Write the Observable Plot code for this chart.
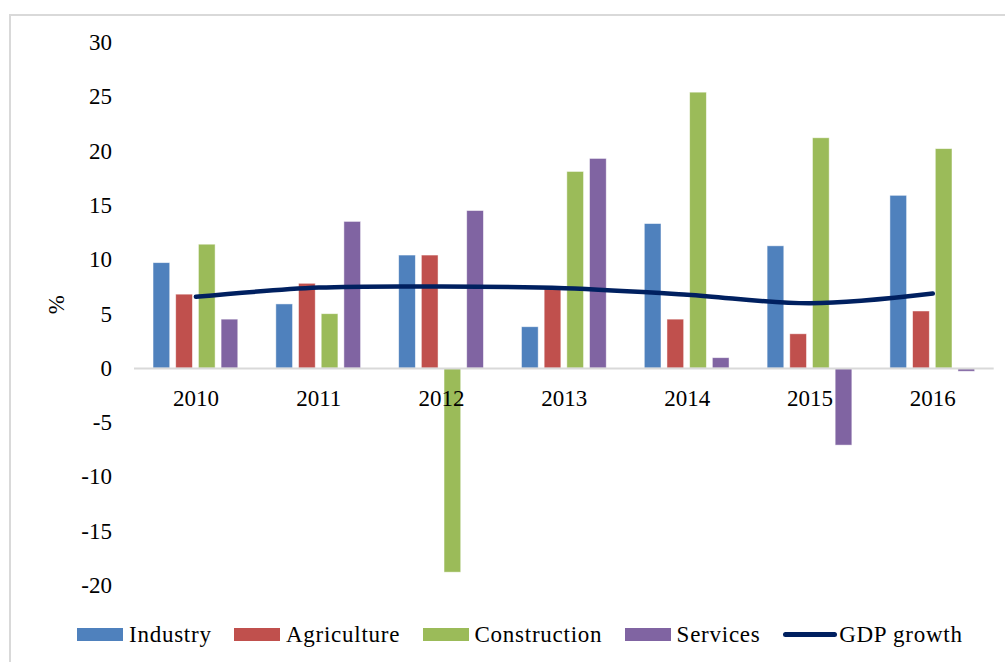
<!DOCTYPE html>
<html>
<head>
<meta charset="utf-8">
<script src="https://cdn.jsdelivr.net/npm/d3@7"></script>
<script src="https://cdn.jsdelivr.net/npm/@observablehq/plot@0.6"></script>
<style>
  html, body { margin: 0; padding: 0; background: #fff; width: 1005px; height: 662px; overflow: hidden; }
  #wrap { position: relative; width: 1005px; height: 662px; }
  #frame { position: absolute; left: 9px; top: 14px; width: 1010px; height: 700px;
           border-left: 2px solid #d9d9d9; border-top: 2px solid #d9d9d9; pointer-events: none; }
  #chart { position: absolute; left: 0; top: 0; }
  #legend { position: absolute; left: 77.3px; top: 622.8px; display: flex; align-items: center;
            font-family: "Liberation Serif", "Times New Roman", serif; font-size: 23px; line-height: 1;
            letter-spacing: 0.75px; color: #000; white-space: nowrap; }
  .item { display: flex; align-items: center; margin-right: 22.6px; }
  .sw { width: 46px; height: 13.4px; margin-right: 5.7px; }
  .ln { width: 54px; height: 4.5px; border-radius: 2.5px; margin-right: 2px; }
</style>
</head>
<body>
<div id="wrap">
  <div id="chart"></div>
  <div id="frame"></div>
  <div id="legend"></div>
</div>
<script>
const years = [2010, 2011, 2012, 2013, 2014, 2015, 2016];
const series = ["Industry", "Agriculture", "Construction", "Services"];
const industry     = [9.7, 5.9, 10.4, 3.8, 13.3, 11.25, 15.9];
const agriculture  = [6.8, 7.8, 10.4, 7.3, 4.5, 3.15, 5.25];
const construction = [11.4, 5.0, -18.8, 18.1, 25.4, 21.2, 20.2];
const services     = [4.5, 13.5, 14.5, 19.3, 0.95, -7.1, -0.3];
const gdpGrowth    = [6.6, 7.45, 7.55, 7.4, 6.8, 6.0, 6.9];
const yTicks = [-20, -15, -10, -5, 0, 5, 10, 15, 20, 25, 30];
const lineName = "GDP growth";
const yLabel = "%";

const colors = ["#4F81BD", "#C0504D", "#9BBB59", "#8064A2"];
const lineColor = "#002060";
const seriesValues = [industry, agriculture, construction, services];

const bars = years.flatMap((year, i) =>
  series.map((s, j) => ({year, series: s, j, value: seriesValues[j][i]})));
const gdp = years.map((year, i) => ({year, value: gdpGrowth[i]}));

// within-group layout, in year units
const step = 0.1847, bw = 0.136;

const font = "'Liberation Serif', 'Times New Roman', serif";

const chart = Plot.plot({
  width: 1005,
  height: 615,
  marginLeft: 134,
  marginRight: 11.3,
  marginTop: 42.2,
  marginBottom: 29.8,
  x: {domain: [2009.5, 2016.5], axis: null},
  y: {domain: [-20, 30], axis: null},
  color: {domain: series, range: colors},
  style: {fontFamily: font, fontSize: "23px", color: "#000", background: "transparent", overflow: "visible"},
  marks: [
    Plot.axisY({ticks: yTicks, tickSize: 0, tickPadding: 22.5, tickFormat: d => String(d),
                fontSize: 23, label: null, fill: "#000", letterSpacing: 0.8}),
    Plot.rect(bars, {
      x1: d => d.year + (d.j - 1.5) * step - bw / 2,
      x2: d => d.year + (d.j - 1.5) * step + bw / 2,
      y1: 0,
      y2: "value",
      fill: "series",
      stroke: "#fff",
      strokeWidth: 0.8,
      strokeOpacity: 0.6
    }),
    Plot.ruleY([0], {stroke: "#d9d9d9", strokeWidth: 2}),
    Plot.line(gdp, {x: "year", y: "value", stroke: lineColor, strokeWidth: 4.5,
                    curve: "catmull-rom", strokeLinecap: "round", strokeLinejoin: "round"}),
    Plot.text(years, {x: d => d, y: 0, dy: 29.7, text: d => String(d), fontSize: 23,
                      fill: "#000", letterSpacing: 0.8}),
    Plot.text([yLabel], {frameAnchor: "left", dx: -77.5, rotate: -90, text: d => d,
                         fontSize: 23, fill: "#000"})
  ]
});
document.getElementById("chart").appendChild(chart);

// legend
const legend = document.getElementById("legend");
series.forEach((s, j) => {
  const it = document.createElement("div");
  it.className = "item";
  const sw = document.createElement("span");
  sw.className = "sw";
  sw.style.background = colors[j];
  const tx = document.createElement("span");
  tx.textContent = s;
  it.appendChild(sw); it.appendChild(tx);
  legend.appendChild(it);
});
{
  const it = document.createElement("div");
  it.className = "item";
  const ln = document.createElement("span");
  ln.className = "ln";
  ln.style.background = lineColor;
  const tx = document.createElement("span");
  tx.textContent = lineName;
  it.appendChild(ln); it.appendChild(tx);
  legend.appendChild(it);
}
</script>
</body>
</html>
